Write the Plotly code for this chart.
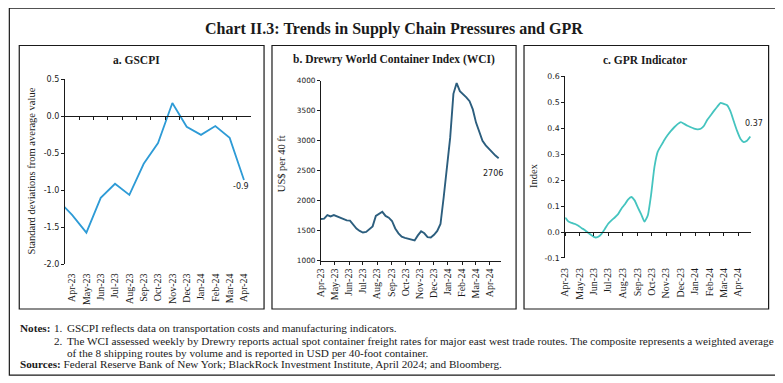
import numpy as np
import pandas as pd
import plotly.graph_objects as go

# the page body adds an 8 px margin; the figure is sized so the visible window matches
WIN_W, WIN_H, OFF = 783, 383, 8
W, H = WIN_W - OFF, WIN_H - OFF

# ---------------- data ----------------
# a. GSCPI (monthly); Mar-23 only feeds the line segment entering the axis
gscpi_months = ['Mar-23', 'Apr-23', 'May-23', 'Jun-23', 'Jul-23', 'Aug-23', 'Sep-23',
                'Oct-23', 'Nov-23', 'Dec-23', 'Jan-24', 'Feb-24', 'Mar-24', 'Apr-24']
gscpi_values = [-1.13, -1.33, -1.57, -1.10, -0.91, -1.06, -0.64,
                -0.36, 0.18, -0.14, -0.25, -0.13, -0.29, -0.86]
gscpi_label = '-0.9'
gscpi_yticks = [0.5, 0.0, -0.5, -1.0, -1.5, -2.0]

# b. Drewry WCI (weekly, US$ per 40 ft)
wci_start = '2023-04-06'
wci_values = [1694, 1700, 1759, 1737, 1759, 1737, 1710, 1680, 1670, 1667,
              1600, 1535, 1495, 1468, 1478, 1520, 1570, 1745, 1775, 1813,
              1745, 1715, 1660, 1535, 1455, 1400, 1380, 1366, 1355, 1336,
              1420, 1488, 1455, 1390, 1385, 1430, 1495, 1610, 2060, 2561,
              3049, 3780, 3959, 3824, 3780, 3720, 3656, 3520, 3300, 3130,
              2995, 2920, 2860, 2800, 2750, 2706]
wci_label = '2706'
wci_yticks = [1000, 1500, 2000, 2500, 3000, 3500, 4000]

# c. GPR indicator (weekly)
gpr_start = '2023-04-01'
gpr_values = [0.056, 0.040, 0.035, 0.031, 0.024, 0.015, 0.007, -0.003, -0.013, -0.021,
              -0.018, -0.007, 0.012, 0.032, 0.045, 0.056, 0.069, 0.090, 0.106, 0.125,
              0.135, 0.122, 0.094, 0.068, 0.040, 0.065, 0.145, 0.251, 0.310, 0.333,
              0.355, 0.374, 0.390, 0.404, 0.416, 0.424, 0.417, 0.410, 0.404, 0.399,
              0.396, 0.398, 0.410, 0.433, 0.450, 0.467, 0.483, 0.498, 0.494, 0.489,
              0.465, 0.427, 0.390, 0.360, 0.347, 0.352, 0.368]
gpr_label = '0.37'
gpr_yticks = [-0.1, 0.0, 0.1, 0.2, 0.3, 0.4, 0.5, 0.6]

wci_dates = pd.date_range(wci_start, periods=len(wci_values), freq='7D')
gpr_dates = pd.date_range(gpr_start, periods=len(gpr_values), freq='7D')

# ---------------- styling ----------------
SERIF = 'Liberation Serif'
SANS = 'DejaVu Sans'
INK = '#1a1a1a'
COL_A = '#2E9BD6'
COL_B = '#2C5E7E'
COL_C = '#45C4BF'


def px(x):
    return (x - OFF) / W


def py(y):
    return 1 - (y - OFF) / H


# plot-area geometry in window pixels (left, right, top, bottom)
A = dict(l=59.3, r=247.0, t=77.0, b=266.7)
B = dict(l=317.3, r=498.3, t=78.3, b=262.7)
C = dict(l=563.5, r=751.0, t=74.0, b=260.0)


def zero_pos(g, lo, hi):
    return g['t'] + (hi - 0) / (hi - lo) * (g['b'] - g['t'])


a_lo, a_hi = min(gscpi_yticks), max(gscpi_yticks)
c_lo, c_hi = min(gpr_yticks), max(gpr_yticks)
a_zero = zero_pos(A, a_lo, a_hi)
c_zero = zero_pos(C, c_lo, c_hi)

fig = go.Figure()

fig.add_trace(go.Scatter(x=gscpi_months, y=gscpi_values, mode='lines',
                         line=dict(color=COL_A, width=1.8), xaxis='x', yaxis='y',
                         showlegend=False, hoverinfo='skip'))
fig.add_trace(go.Scatter(x=wci_dates, y=wci_values, mode='lines',
                         line=dict(color=COL_B, width=1.9), xaxis='x2', yaxis='y2',
                         showlegend=False, hoverinfo='skip'))
fig.add_trace(go.Scatter(x=gpr_dates, y=gpr_values, mode='lines',
                         line=dict(color=COL_C, width=1.8, shape='spline', smoothing=0.5),
                         xaxis='x3', yaxis='y3', showlegend=False, hoverinfo='skip'))

axis_common = dict(showgrid=False, zeroline=False, showline=True, linecolor=INK,
                   linewidth=1, ticks='outside', ticklen=3, tickcolor=INK, tickwidth=1)
xfont = dict(family=SERIF, size=10, color=INK)
yfont = dict(family=SANS, size=8, color=INK)

fig.update_layout(
    width=W, height=H, margin=dict(l=0, r=0, t=0, b=0),
    paper_bgcolor='white', plot_bgcolor='rgba(0,0,0,0)',
    xaxis=dict(**axis_common, type='category', categoryorder='array',
               categoryarray=gscpi_months, range=[0.5, len(gscpi_months) - 0.5],
               tickson='boundaries', tickangle=-90, tickfont=xfont,
               domain=[px(A['l']), px(A['r'])], anchor='free', position=py(a_zero),
               ticklabelstandoff=int(round(A['b'] - a_zero))),
    yaxis=dict(**axis_common, range=[a_lo, a_hi], tickvals=gscpi_yticks,
               ticktext=[f'{v:.1f}' for v in gscpi_yticks], tickfont=yfont,
               domain=[py(A['b']), py(A['t'])], anchor='x'),
    xaxis2=dict(**axis_common, type='date', range=[wci_dates[0], '2024-04-29'],
                tick0=wci_start, dtick='M1', tickformat='%b-%y', tickangle=-90,
                tickfont=xfont, domain=[px(B['l']), px(B['r'])], anchor='y2'),
    yaxis2=dict(**axis_common, range=[min(wci_yticks), max(wci_yticks)],
                tickvals=wci_yticks, ticktext=[str(v) for v in wci_yticks],
                tickfont=dict(family=SANS, size=7.3, color=INK),
                domain=[py(B['b']), py(B['t'])], anchor='x2'),
    xaxis3=dict(**axis_common, type='date', range=[gpr_start, '2024-04-29'],
                tick0=gpr_start, dtick='M1', tickformat='%b-%y', tickangle=-90,
                tickfont=xfont, domain=[px(C['l']), px(C['r'])], anchor='free',
                position=py(c_zero), ticklabelstandoff=int(round(C['b'] - c_zero + 1))),
    yaxis3=dict(**axis_common, range=[c_lo, c_hi], tickvals=gpr_yticks,
                ticktext=[f'{v:.1f}' for v in gpr_yticks],
                tickfont=dict(family=SANS, size=7.8, color=INK),
                domain=[py(C['b']), py(C['t'])], anchor='x3'),
)

# frames
shapes = [dict(type='rect', xref='paper', yref='paper', x0=px(3.3), x1=px(779.5),
               y0=py(380), y1=py(4), line=dict(color=INK, width=1.2))]
for (l, r) in [(13.3, 260), (268, 514), (522, 768.5)]:
    shapes.append(dict(type='rect', xref='paper', yref='paper', x0=px(l), x1=px(r),
                       y0=py(312.3), y1=py(42.3), line=dict(color=INK, width=1.2)))
fig.update_layout(shapes=shapes)

ann = []


def text(x, y, s, size, family=SERIF, xanchor='center', angle=0, color=INK):
    ann.append(dict(x=px(x), y=py(y), xref='paper', yref='paper', text=s,
                    showarrow=False, xanchor=xanchor, yanchor='middle',
                    textangle=angle, font=dict(family=family, size=size, color=color)))


text(391, 25, '<b>Chart II.3: Trends in Supply Chain Pressures and GPR</b>', 16)
text(131.5, 57, '<b>a. GSCPI</b>', 11.5)
text(390.5, 57, '<b>b. Drewry World Container Index (WCI)</b>', 11.5)
text(644, 57, '<b>c. GPR Indicator</b>', 11.5)

text(25.5, 171, 'Standard deviations from average value', 10.5, angle=-90)
text(277, 163, 'US$ per 40 ft', 10.5, angle=-90)
text(532, 175, 'Index', 10.5, angle=-90)

# notes
NS = 11.2
text(11.7, 332, '<b>Notes:</b>', NS, xanchor='left')
text(46.7, 332, '1.', NS, xanchor='left')
text(59.3, 332, 'GSCPI reflects data on transportation costs and manufacturing indicators.', NS, xanchor='left')
text(46.7, 345.5, '2.', NS, xanchor='left')
text(59.3, 345.5, 'The WCI assessed weekly by Drewry reports actual spot container freight rates for major east west trade routes. The composite represents a weighted average', NS, xanchor='left')
text(59.3, 357, 'of the 8 shipping routes by volume and is reported in USD per 40-foot container.', NS, xanchor='left')
text(11.7, 368.5, '<b>Sources:</b> Federal Reserve Bank of New York; BlackRock Investment Institute, April 2024; and Bloomberg.', NS, xanchor='left')

# end-point data labels
lab_font = dict(family=SANS, size=8, color=INK)
ann.append(dict(x=gscpi_months[-1], y=gscpi_values[-1], xref='x', yref='y', text=gscpi_label,
                showarrow=False, xanchor='center', yanchor='middle', xshift=-2.5, yshift=-6.5,
                font=lab_font))
ann.append(dict(x=wci_dates[-1], y=wci_values[-1], xref='x2', yref='y2', text=wci_label,
                showarrow=False, xanchor='center', yanchor='middle', xshift=-5.4, yshift=-15,
                font=lab_font))
ann.append(dict(x=gpr_dates[-1], y=gpr_values[-1], xref='x3', yref='y3', text=gpr_label,
                showarrow=False, xanchor='center', yanchor='middle', xshift=3.5, yshift=13.5,
                font=lab_font))
fig.update_layout(annotations=ann)

fig.write_html('out.html')
